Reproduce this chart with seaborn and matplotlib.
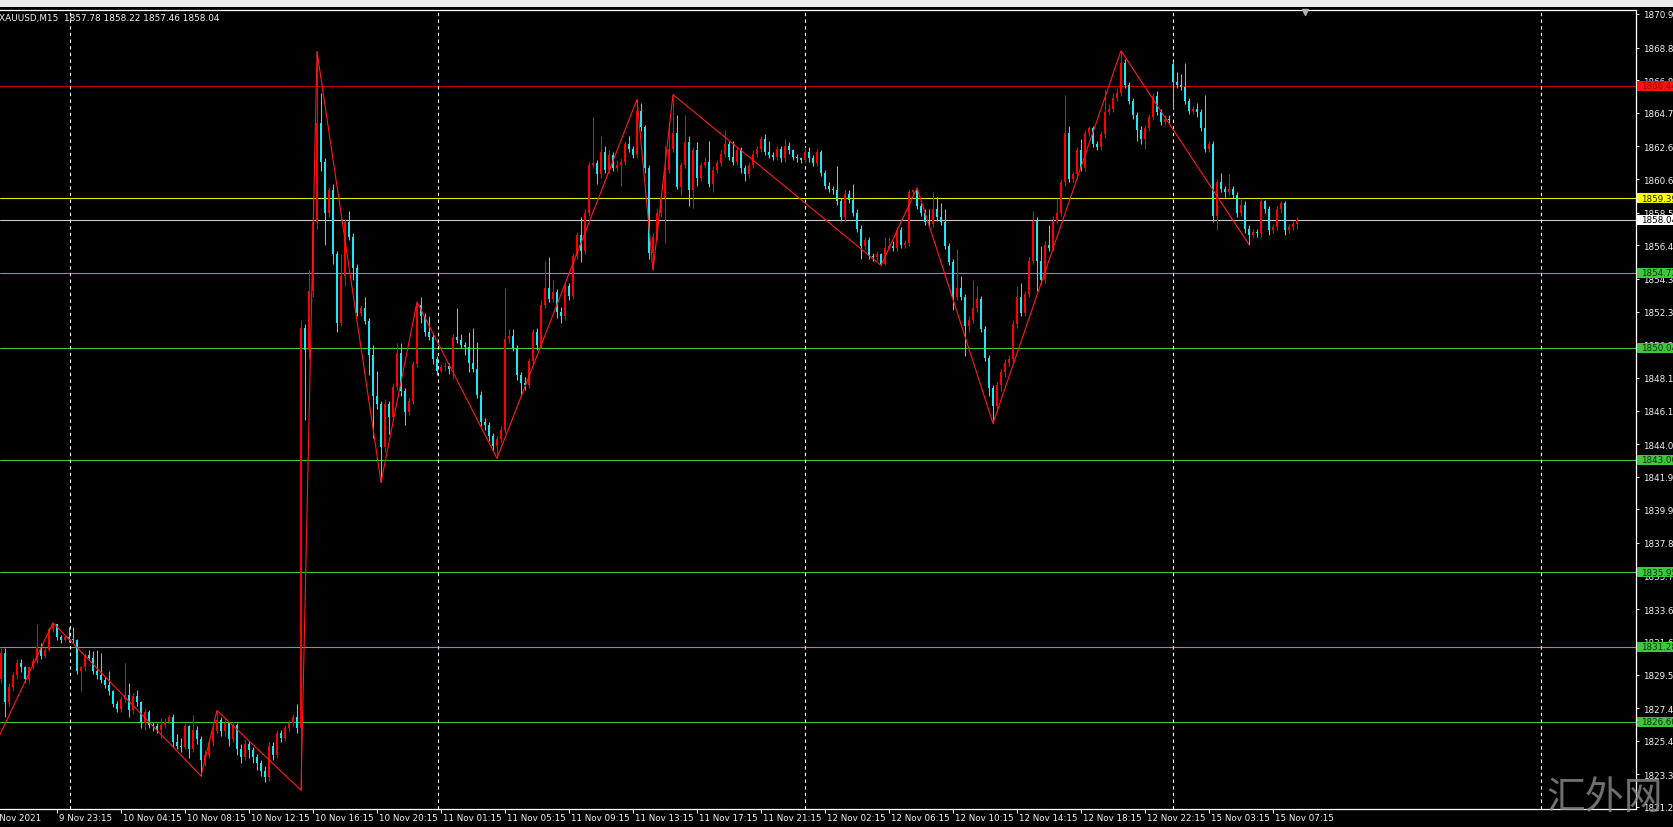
import numpy as np
import matplotlib
matplotlib.use("Agg")
import matplotlib.pyplot as plt
import matplotlib.transforms as mtrans
from matplotlib.patches import Rectangle
import seaborn as sns

# ---------------- data ----------------
symbol_text = "XAUUSD,M15  1857.78 1858.22 1857.46 1858.04"
first_open = 1829.3
gap_opens = {293: 1867.8}

closes = [
    1830.9, 1827.8, 1828.8, 1829.5, 1830.3, 1830.0, 1829.3, 1830.0, 1830.4, 1831.3,
    1830.7, 1831.1, 1832.4, 1832.7, 1831.9, 1831.7, 1831.9, 1831.8, 1831.7, 1829.8,
    1830.0, 1830.8, 1830.6, 1829.8, 1829.5, 1829.2, 1828.9, 1828.5, 1827.7, 1827.4,
    1828.0, 1828.3, 1827.3, 1828.2, 1827.8, 1826.5, 1827.2, 1826.4, 1826.35, 1826.1,
    1826.4, 1826.6, 1826.9, 1825.3, 1825.1, 1825.0, 1826.3, 1824.9, 1826.1, 1825.5,
    1824.2, 1824.5, 1825.3, 1826.0, 1826.7, 1826.0, 1826.5, 1825.5, 1826.4, 1824.9,
    1824.4, 1825.2, 1824.8, 1824.4, 1824.0, 1823.5, 1823.1, 1825.1, 1824.5, 1825.9,
    1825.6, 1826.2, 1826.5, 1826.9, 1826.2, 1851.3, 1849.9, 1853.6, 1857.9, 1864.1,
    1861.7, 1858.5, 1859.9, 1855.9, 1851.6, 1854.5, 1857.9, 1857.0, 1855.0, 1852.2,
    1852.5, 1851.7, 1849.6, 1847.0, 1846.5, 1843.8, 1846.5, 1845.7, 1847.6, 1849.7,
    1847.3, 1846.0, 1846.7, 1849.0, 1852.7, 1852.0, 1851.0, 1850.7, 1849.3, 1848.6,
    1848.8, 1848.9, 1848.7, 1850.7, 1850.5, 1850.2, 1850.1, 1849.1, 1848.7, 1847.1,
    1845.4, 1845.2, 1844.5, 1843.9, 1844.3, 1844.9, 1850.6, 1850.8, 1850.0, 1848.3,
    1847.8, 1847.7, 1849.2, 1851.0, 1850.2, 1852.7, 1853.8, 1853.1, 1853.5, 1852.3,
    1852.0, 1853.9, 1853.3, 1855.8, 1857.1, 1856.1, 1858.5, 1861.5, 1861.6, 1860.9,
    1862.3, 1861.2, 1862.1, 1861.3, 1861.5, 1861.7, 1862.8, 1862.5, 1862.1, 1864.9,
    1863.85, 1861.3, 1856.0, 1857.0, 1858.5, 1859.4, 1861.2, 1862.5, 1863.5, 1860.1,
    1861.5, 1862.9, 1859.9, 1862.4, 1860.7, 1861.5, 1861.7, 1860.3, 1861.2, 1861.6,
    1862.2, 1862.8, 1862.0, 1861.7, 1862.4, 1861.3, 1860.9, 1861.5, 1862.2, 1862.5,
    1863.1, 1862.3, 1862.1, 1862.0, 1862.5, 1861.9, 1862.7, 1862.4, 1862.0, 1861.9,
    1861.8, 1862.3, 1861.9, 1861.6, 1862.3, 1861.0, 1860.2, 1860.0, 1859.9, 1859.2,
    1858.2, 1859.7, 1859.3, 1858.5, 1857.5, 1856.4, 1856.8, 1855.8, 1855.7, 1855.9,
    1855.3, 1856.3, 1856.4, 1856.3, 1857.4, 1856.5, 1856.6, 1859.8, 1859.9, 1858.9,
    1858.5, 1857.9, 1857.8, 1858.7, 1858.2, 1857.9, 1856.4, 1855.4, 1853.2, 1853.8,
    1853.2, 1851.4, 1851.8, 1852.5, 1853.1, 1851.2, 1849.4, 1847.5, 1846.4, 1847.7,
    1848.5, 1849.1, 1849.3, 1851.5, 1853.2, 1852.2, 1853.4, 1855.5, 1858.0, 1855.5,
    1854.3, 1856.5, 1856.3, 1858.0, 1858.5, 1860.4, 1863.5, 1860.6, 1860.9, 1862.4,
    1861.3, 1863.5, 1863.8, 1862.8, 1862.6, 1863.4, 1864.8, 1865.0, 1865.7, 1866.0,
    1867.9, 1866.5, 1865.5, 1864.6, 1863.7, 1863.1, 1863.8, 1864.5, 1865.8, 1864.8,
    1864.2, 1864.4, 1864.3, 1866.7, 1866.5, 1866.4, 1865.5, 1864.9, 1865.0, 1864.8,
    1863.8, 1862.5, 1862.8, 1858.3, 1860.4, 1860.0, 1859.8, 1860.0, 1859.6, 1858.5,
    1859.0, 1857.5, 1857.1, 1857.3, 1857.2, 1859.2, 1858.7, 1857.4, 1857.6, 1858.7,
    1859.1, 1857.4, 1857.6, 1857.78, 1858.04,
]

highs = [
    1831.2, 1831.2, 1829.0, 1829.7, 1830.5, 1830.5, 1830.1, 1830.1, 1830.6, 1832.7,
    1831.5, 1831.3, 1832.5, 1832.8, 1832.7, 1832.0, 1832.0, 1832.5, 1832.5, 1831.8,
    1830.1, 1830.9, 1831.1, 1831.0, 1831.1, 1830.9, 1829.4, 1829.8, 1828.6, 1827.9,
    1828.2, 1830.3, 1829.0, 1828.4, 1828.6, 1827.9, 1827.4, 1827.3, 1826.6, 1826.5,
    1826.8, 1826.8, 1827.0, 1827.1, 1825.8, 1825.6, 1826.5, 1826.4, 1827.0, 1826.3,
    1825.7, 1824.8, 1825.5, 1826.3, 1827.3, 1826.9, 1826.8, 1826.6, 1826.6, 1826.5,
    1825.2, 1825.5, 1825.4, 1825.0, 1824.6, 1824.2, 1823.8, 1825.3, 1825.3, 1826.1,
    1826.1, 1826.4, 1826.7, 1827.1, 1827.7, 1851.8, 1851.5, 1854.9, 1859.5, 1868.6,
    1866.0, 1861.9, 1860.1, 1860.3, 1856.1, 1855.9, 1858.1, 1858.6, 1857.2, 1855.3,
    1852.7, 1853.2, 1851.9, 1850.2, 1848.6, 1846.7, 1846.8, 1846.7, 1847.8, 1850.3,
    1850.3, 1847.5, 1846.9, 1849.2, 1852.9, 1853.2, 1852.2, 1852.0, 1850.9, 1849.5,
    1849.0, 1849.1, 1849.1, 1850.9, 1852.5, 1850.9, 1850.4, 1851.0, 1851.3, 1850.4,
    1847.3, 1845.6, 1845.4, 1844.7, 1844.5, 1845.1, 1853.8, 1851.2, 1851.2, 1850.2,
    1848.5, 1848.2, 1849.4, 1851.2, 1851.3, 1853.0, 1855.5, 1855.7, 1854.3, 1853.7,
    1852.6, 1854.1, 1854.1, 1856.0, 1857.3, 1858.2, 1858.7, 1861.7, 1864.5, 1861.8,
    1863.3, 1862.7, 1862.4, 1862.3, 1861.8, 1861.9, 1863.0, 1863.3, 1862.7, 1865.6,
    1865.4, 1864.0, 1861.5, 1857.2, 1858.8, 1859.7, 1862.7, 1864.2, 1865.9, 1864.6,
    1861.7, 1864.6, 1863.3, 1862.6, 1862.9, 1861.7, 1862.0, 1863.0, 1861.4, 1861.8,
    1862.4, 1863.7, 1863.0, 1863.0, 1862.6, 1862.6, 1861.5, 1861.7, 1862.4, 1862.7,
    1863.3, 1863.4, 1863.0, 1862.3, 1862.7, 1862.7, 1863.1, 1862.9, 1862.5, 1862.2,
    1862.0, 1862.6, 1862.6, 1862.1, 1862.5, 1862.4, 1861.2, 1860.4, 1860.2, 1861.4,
    1859.4, 1859.9, 1859.9, 1860.3, 1858.7, 1857.7, 1857.0, 1857.0, 1856.0, 1856.1,
    1856.0, 1857.0, 1857.0, 1856.7, 1857.6, 1857.6, 1856.8, 1860.0, 1860.0, 1860.05,
    1859.1, 1858.7, 1858.7, 1859.8, 1859.5, 1859.1, 1858.7, 1856.6, 1855.6, 1856.2,
    1854.5, 1853.4, 1852.0, 1854.3, 1853.9, 1853.3, 1851.4, 1849.6, 1847.7, 1847.9,
    1848.7, 1849.3, 1849.6, 1851.8, 1853.9, 1854.1, 1853.6, 1855.7, 1858.6, 1858.2,
    1856.4, 1856.7, 1857.7, 1858.3, 1859.4, 1860.6, 1865.9, 1863.9, 1861.1, 1862.6,
    1863.1, 1863.7, 1863.9, 1863.9, 1863.0, 1863.6, 1866.2, 1865.3, 1866.0, 1866.3,
    1868.65, 1868.1, 1866.7, 1865.7, 1864.8, 1863.9, 1864.0, 1864.7, 1866.0, 1866.1,
    1865.0, 1864.6, 1864.6, 1868.0, 1867.3, 1867.2, 1867.9, 1865.7, 1865.2, 1865.4,
    1865.0, 1865.9, 1863.0, 1863.0, 1860.6, 1861.0, 1860.2, 1860.9, 1860.2, 1859.8,
    1859.4, 1859.2, 1857.7, 1857.5, 1857.5, 1859.4, 1859.3, 1858.9, 1857.8, 1858.9,
    1859.25, 1859.2, 1857.8, 1858.0, 1858.22,
]

lows = [
    1829.0, 1826.9, 1827.6, 1828.5, 1829.3, 1829.7, 1829.1, 1829.0, 1829.9, 1830.3,
    1830.5, 1830.6, 1831.0, 1832.2, 1831.7, 1831.5, 1831.6, 1831.6, 1831.5, 1829.6,
    1828.5, 1829.8, 1830.5, 1829.6, 1829.3, 1829.0, 1828.7, 1828.3, 1827.5, 1827.2,
    1827.2, 1827.8, 1826.9, 1827.1, 1827.6, 1826.2, 1826.1, 1826.2, 1826.0, 1825.9,
    1825.6, 1826.2, 1826.5, 1825.0, 1824.9, 1824.7, 1824.9, 1824.3, 1824.7, 1825.2,
    1823.2, 1823.8, 1824.3, 1825.1, 1825.8, 1825.7, 1825.7, 1825.1, 1825.3, 1824.5,
    1824.0, 1824.2, 1824.3, 1824.0, 1823.6, 1823.2, 1822.8, 1822.9, 1824.2, 1824.3,
    1825.3, 1825.4, 1826.0, 1826.3, 1825.9, 1822.3, 1845.5, 1849.3, 1853.2, 1857.5,
    1861.1, 1856.5, 1858.2, 1855.3, 1851.0, 1851.4, 1853.9, 1856.8, 1854.3, 1852.0,
    1852.0, 1851.5, 1848.3, 1844.4, 1846.2, 1841.6, 1843.5, 1844.6, 1845.5, 1847.4,
    1847.0, 1845.2, 1845.8, 1846.5, 1848.8, 1851.6, 1850.8, 1850.5, 1849.0, 1848.3,
    1848.5, 1848.6, 1848.4, 1848.1, 1850.3, 1850.0, 1849.6, 1848.5, 1848.5, 1846.9,
    1845.1, 1844.9, 1844.2, 1843.6, 1843.1, 1844.1, 1844.7, 1850.3, 1849.8, 1848.0,
    1847.0, 1847.4, 1847.5, 1849.0, 1849.9, 1850.0, 1852.5, 1852.9, 1852.9, 1851.9,
    1851.6, 1851.8, 1853.0, 1853.1, 1855.6, 1855.4, 1855.9, 1858.3, 1861.3, 1860.3,
    1860.7, 1861.0, 1861.0, 1861.1, 1861.1, 1860.2, 1861.5, 1862.3, 1861.9, 1861.9,
    1863.6, 1861.0, 1855.6, 1854.9, 1856.8, 1858.2, 1856.6, 1861.0, 1862.3, 1860.0,
    1859.6, 1861.3, 1858.9, 1858.8, 1860.2, 1860.5, 1861.3, 1860.1, 1859.8, 1861.0,
    1861.4, 1862.0, 1861.8, 1861.5, 1861.5, 1861.0, 1860.5, 1860.7, 1861.3, 1862.0,
    1862.3, 1862.1, 1861.9, 1861.8, 1861.8, 1861.7, 1861.7, 1862.2, 1861.8, 1861.7,
    1861.6, 1861.6, 1861.7, 1861.4, 1861.4, 1860.8, 1860.0, 1859.8, 1859.7, 1859.0,
    1858.0, 1857.9, 1859.1, 1858.3, 1857.3, 1855.6, 1856.2, 1855.6, 1855.5, 1855.5,
    1855.2, 1855.2, 1856.2, 1856.1, 1856.1, 1856.3, 1856.3, 1856.4, 1859.6, 1858.7,
    1858.3, 1857.7, 1857.6, 1857.6, 1858.0, 1857.7, 1856.2, 1855.2, 1852.4, 1853.0,
    1853.0, 1849.5, 1851.0, 1851.6, 1852.3, 1851.0, 1849.2, 1847.0, 1845.3, 1846.0,
    1847.3, 1848.2, 1848.9, 1849.1, 1851.3, 1852.0, 1852.0, 1853.2, 1855.3, 1853.6,
    1854.0, 1854.1, 1856.1, 1856.1, 1857.8, 1858.3, 1860.2, 1860.4, 1860.4, 1860.7,
    1861.1, 1861.1, 1863.3, 1862.6, 1862.4, 1862.4, 1863.2, 1864.6, 1864.8, 1865.5,
    1865.8, 1866.3, 1865.3, 1864.4, 1863.0, 1862.8, 1862.5, 1863.6, 1864.3, 1864.6,
    1864.0, 1864.0, 1864.1, 1865.0, 1866.3, 1866.2, 1865.3, 1864.7, 1864.7, 1864.5,
    1863.6, 1862.3, 1862.3, 1857.9, 1857.4, 1859.8, 1859.5, 1859.6, 1859.4, 1858.2,
    1858.3, 1857.2, 1856.5, 1856.9, 1857.0, 1857.0, 1858.5, 1857.1, 1857.2, 1857.4,
    1858.5, 1857.1, 1857.2, 1857.4, 1857.46,
]

# ZigZag indicator vertices (bar index, price)
zz_bars = [-1, 13, 50, 54, 75, 79, 95, 104, 124, 159, 163, 168, 220, 229, 248, 280, 312]
zz_prices = [1825.4, 1832.8, 1823.2, 1827.3, 1822.3, 1868.6, 1841.6, 1852.9, 1843.1,
             1865.6, 1854.9, 1865.9, 1855.2, 1860.05, 1845.3, 1868.65, 1856.5]

# horizontal levels
level_values = [1866.44, 1859.39, 1858.04, 1854.72, 1850.04, 1843.00, 1835.95, 1831.28, 1826.60]
level_labels = ["1866.44", "1859.39", "1858.04", "1854.72", "1850.04", "1843.00", "1835.95", "1831.28", "1826.60"]
level_kinds = ["resist", "pivot", "price", "support", "support", "support", "support", "support", "support"]

# day separators (bar positions)
day_breaks = [17.25, 109.25, 201.1, 293.0, 385.1]

# price axis ticks
y_tick_values = [1870.95, 1868.85, 1866.80, 1864.75, 1862.65, 1860.60, 1858.50, 1856.45,
                 1854.35, 1852.30, 1850.25, 1848.15, 1846.10, 1844.00, 1841.95, 1839.90,
                 1837.80, 1835.75, 1833.65, 1831.60, 1829.55, 1827.45, 1825.40, 1823.30, 1821.25]

# time axis ticks
x_tick_bars = [-3, 14, 30, 46, 62, 78, 94, 110, 126, 142, 158, 174, 190, 206, 222, 238, 254, 270, 286, 302, 318]
x_tick_labels = ["9 Nov 2021", "9 Nov 23:15", "10 Nov 04:15", "10 Nov 08:15", "10 Nov 12:15",
                 "10 Nov 16:15", "10 Nov 20:15", "11 Nov 01:15", "11 Nov 05:15", "11 Nov 09:15",
                 "11 Nov 13:15", "11 Nov 17:15", "11 Nov 21:15", "12 Nov 02:15", "12 Nov 06:15",
                 "12 Nov 10:15", "12 Nov 14:15", "12 Nov 18:15", "12 Nov 22:15", "15 Nov 03:15",
                 "15 Nov 07:15"]

watermark = "汇外网"

# ---------------- styling ----------------
sns.set_theme(style="dark")
plt.rcParams["font.family"] = ["DejaVu Sans", "Noto Sans CJK SC"]
plt.rcParams["axes.facecolor"] = "black"
plt.rcParams["figure.facecolor"] = "black"

UP = "#ff0000"
DOWN = "#1ee8ee"
FG = "#f0f0f0"
level_style = {
    "resist": ("#c00000", "#ff1010", "#a00000"),
    "pivot": ("#e8e800", "#ffff00", "#202000"),
    "price": ("#c8c8c8", "#ffffff", "#000000"),
    "support": ("#3cc83c", "#3cc83c", "#0a320a"),
}

W, H = 1674, 828
fig = plt.figure(figsize=(W / 100, H / 100), dpi=100)
ax_left, ax_right, ax_top, ax_bot = 0, 1636, 11, 810
ax = fig.add_axes([ax_left / W, (H - ax_bot) / H, (ax_right - ax_left) / W, (ax_bot - ax_top) / H])
ax.set_facecolor("black")

px_per_unit = (808 - 15) / (1870.95 - 1821.25)
ymax = 1870.95 + (15 - ax_top) / px_per_unit
ymin = 1821.25 - (ax_bot - 808) / px_per_unit
ax.set_ylim(ymin, ymax)
ax.set_xlim((ax_left - 1) / 4, (ax_right - 1) / 4)

n = len(closes)
idx = np.arange(n)
c = np.array(closes)
o = np.concatenate([[first_open], c[:-1]])
for k, v in gap_opens.items():
    o[k] = v
h = np.array(highs)
l = np.array(lows)
up = c >= o
cols = np.where(up, UP, DOWN)

# level lines
for val, kind in zip(level_values, level_kinds):
    ax.axhline(val, color=level_style[kind][0], lw=0.8, zorder=1)

# day separators
for b in day_breaks:
    ax.axvline(b, color="white", lw=0.8, ls=(0, (3, 3)), zorder=1)

# candles
ax.vlines(idx, l, h, colors=cols, lw=0.75, zorder=3)
body_h = np.maximum(np.abs(c - o), 0.07)
body_b = np.minimum(o, c)
ax.bar(idx, body_h, bottom=body_b, width=0.72, color=cols, linewidth=0, zorder=4)

# zigzag
sns.lineplot(x=zz_bars, y=zz_prices, ax=ax, color="#ff1a1a", lw=0.8, sort=False,
             estimator=None, zorder=5)

# spines
for s in ["top", "right", "bottom"]:
    ax.spines[s].set_color("white")
    ax.spines[s].set_linewidth(0.9)
ax.spines["left"].set_visible(False)
ax.grid(False)

# y axis
ax.yaxis.tick_right()
ax.set_yticks(y_tick_values)
ax.set_yticklabels([f"{v:.2f}" for v in y_tick_values])
ax.tick_params(axis="y", colors=FG, labelcolor=FG, length=2.5, width=0.7, pad=2.5,
               labelsize=6.3, direction="out", right=True, left=False)

# x axis
ax.set_xticks(x_tick_bars[1:])
ax.set_xticklabels([""] * (len(x_tick_bars) - 1))
ax.tick_params(axis="x", colors=FG, length=3, width=0.7, direction="out", bottom=True)
xtr = mtrans.blended_transform_factory(ax.transData, ax.transAxes)
lab_y = -(819 - ax_bot) / (ax_bot - ax_top)
for b, lab in zip(x_tick_bars, x_tick_labels):
    ax.text(b + 0.5, lab_y, lab, transform=xtr, ha="left", va="center", color=FG,
            fontsize=6.3, clip_on=False)

# level boxes on the price axis
ytr = mtrans.blended_transform_factory(ax.transAxes, ax.transData)
box_h = 10 / px_per_unit
for val, lab, kind in zip(level_values, level_labels, level_kinds):
    _, bg, fg = level_style[kind]
    ax.add_patch(Rectangle((1.0005, val - box_h / 2), 0.05, box_h, transform=ytr,
                           facecolor=bg, edgecolor="none", clip_on=False, zorder=10))
    ax.text(1.0 + 5 / (ax_right - ax_left), val, lab, transform=ytr, ha="left", va="center",
            color=fg, fontsize=6.3, clip_on=False, zorder=11)

# header text
ax.text(-1 / (ax_right - ax_left), 1 - (18.5 - ax_top) / (ax_bot - ax_top), symbol_text,
        transform=ax.transAxes, ha="left", va="center", color=FG, fontsize=6.4, clip_on=False)

# chart shift marker
ax.plot([326], [ymax - 2 / px_per_unit], marker="v", color="#b0b0b0", ms=4.5, clip_on=False, zorder=12)

# toolbar strip at the top
fig.patches.append(Rectangle((0, 1 - 8 / H), 1, 8 / H, transform=fig.transFigure,
                             facecolor="#ececec", edgecolor="none"))

# watermark
fig.text(1605 / W, 1 - 798 / H, watermark, fontsize=28, color="#8c8c8c", alpha=0.8,
         ha="center", va="center", family=["Noto Sans CJK SC"], fontweight="light", zorder=20)

fig.savefig("out.png", dpi=100, facecolor="black")
